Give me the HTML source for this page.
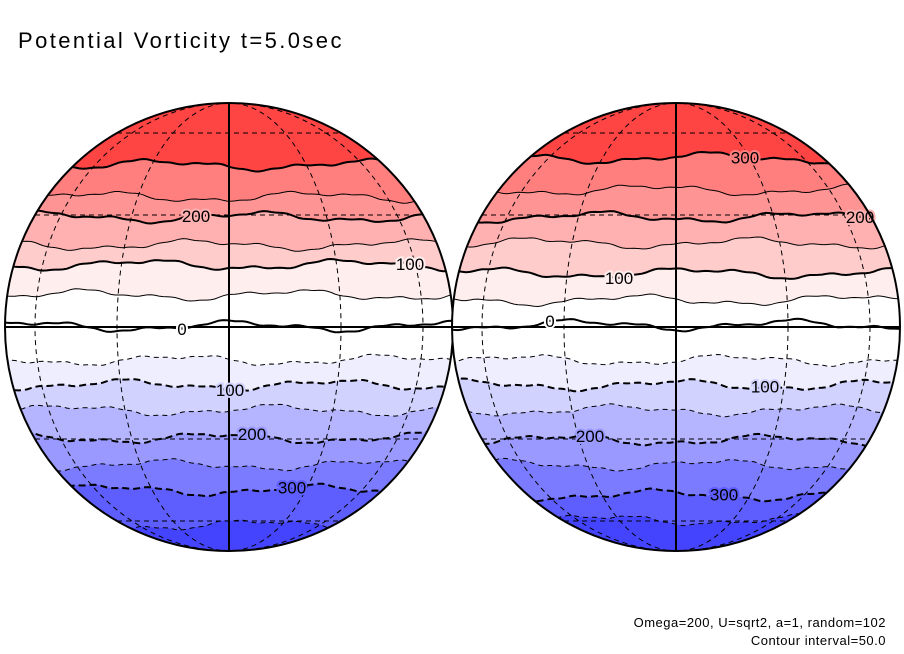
<!DOCTYPE html>
<html><head><meta charset="utf-8"><style>
html,body{margin:0;padding:0;background:#fff;}
svg{display:block;font-family:"Liberation Sans",sans-serif;}
</style></head><body>
<svg id="chart" width="904" height="654" viewBox="0 0 904 654" xmlns="http://www.w3.org/2000/svg">
<text x="18" y="48" font-size="22" letter-spacing="2.4" fill="#000">Potential Vorticity t=5.0sec</text>
<text x="886" y="627" font-size="13" text-anchor="end" letter-spacing="0.5" fill="#000">Omega=200, U=sqrt2, a=1, random=102</text>
<text x="886" y="645" font-size="13" text-anchor="end" letter-spacing="0.5" fill="#000">Contour interval=50.0</text>
</svg>
<script>
// contour levels and colours above each level
const levels = [300,250,200,150,100,50,0,-50,-100,-150,-200,-250,-300,-350];
// latitude (deg) of each contour level, per globe
const leftLat  = [46.3,35.5,29.4,21.5,16.1,8.2,0.2,-8.5,-15.0,-21.8,-29.7,-38.0,-46.7,-62.1];
const rightLat = [49.0,37.7,29.4,22.0,13.9,6.9,0.5,-8.5,-15.0,-21.8,-30.3,-38.0,-48.6,-59.5];
const bandColors = ["#ff4444","#ff7f7f","#ff9494","#ffb0b0","#ffcccc","#ffeeee","#ffffff","#ffffff","#eeeeff","#d2d2ff","#b4b4ff","#9999ff","#7b7bff","#5e5eff","#4444ff"];
const leftLabels  = [{t:"200",lv:200,x:196},{t:"100",lv:100,x:410},{t:"0",lv:0,x:182},{t:"100",lv:-100,x:230},{t:"200",lv:-200,x:252},{t:"300",lv:-300,x:292}];
const rightLabels = [{t:"300",lv:300,x:745},{t:"200",lv:200,x:860},{t:"100",lv:100,x:619},{t:"0",lv:0,x:550},{t:"100",lv:-100,x:765},{t:"200",lv:-200,x:590},{t:"300",lv:-300,x:724}];

const NS="http://www.w3.org/2000/svg";
const svg=document.getElementById('chart');
const R=224, CY=327;
function yOfLat(lat){return CY-R*Math.sin(lat*Math.PI/180);}
function mk(tag,attrs,parent){const e=document.createElementNS(NS,tag);for(const k in attrs)e.setAttribute(k,attrs[k]);(parent||svg).appendChild(e);return e;}
function wig(x,i,seed){return 4*Math.sin(x*0.03+i*1.7+seed)+2*Math.sin(x*0.08+i*0.9+seed*2)+0.6*Math.sin(x*0.25+i);}
function curvePts(cx,y0,i,seed){const pts=[];for(let x=cx-R-2;x<=cx+R+2;x+=4)pts.push([x,y0+wig(x,i,seed)]);return pts;}

function globe(cx,lats,labels,name,seed){
  const g=mk('g',{});
  
  
  const cp=mk('clipPath',{id:'clip-'+name},g);
  mk('circle',{cx:cx,cy:CY,r:R},cp);
  const inner=mk('g',{'clip-path':'url(#clip-'+name+')'},g);
  const bg=mk('rect',{x:cx-R,y:CY-R,width:2*R,height:2*R,fill:bandColors[bandColors.length-1]},inner);
  
  
  for(let i=levels.length-1;i>=0;i--){
    const pts=curvePts(cx,yOfLat(lats[i]),i,seed);
    let d='M'+(cx-R-2)+','+(CY-R-2)+' L'+pts.map(p=>p[0]+','+p[1].toFixed(1)).join(' L')+' L'+(cx+R+2)+','+(CY-R-2)+'Z';
    const p=mk('path',{d:d,fill:bandColors[i]},inner);
    
    
  }
  for(let i=0;i<levels.length;i++){
    const lv=levels[i];
    const pts=curvePts(cx,yOfLat(lats[i]),i,seed);
    const thick=(lv%100===0);
    const attrs={d:'M'+pts.map(p=>p[0]+','+p[1].toFixed(1)).join(' L'),fill:'none',stroke:'#000','stroke-width':thick?2:1};
    if(lv<0)attrs['stroke-dasharray']=thick?'7,4':'5,4';
    const c=mk('path',attrs,inner);
    
    
  }
  [30,60].forEach(lon=>{
    const rx=R*Math.sin(lon*Math.PI/180);
    const m=mk('ellipse',{cx:cx,cy:CY,rx:rx,ry:R,fill:'none',stroke:'#000','stroke-width':1,'stroke-dasharray':'5,4'},inner);
    
    
  });
  [30,60,-30,-60].forEach(lat=>{
    const y=yOfLat(lat), hw=R*Math.cos(lat*Math.PI/180);
    const l=mk('line',{x1:cx-hw,x2:cx+hw,y1:y,y2:y,stroke:'#000','stroke-width':1,'stroke-dasharray':'5,4'},inner);
    
    
  });
  const eq=mk('line',{x1:cx-R,x2:cx+R,y1:CY,y2:CY,stroke:'#000','stroke-width':2},g);
  
  
  const cm=mk('line',{x1:cx,x2:cx,y1:CY-R,y2:CY+R,stroke:'#000','stroke-width':2},g);
  
  
  labels.forEach(lb=>{
    const i=levels.indexOf(lb.lv);
    const y=yOfLat(lats[i])+wig(lb.x,i,seed);
    const t=mk('text',{x:lb.x,y:y+6,'font-size':17,'text-anchor':'middle',fill:'#000',stroke:bandColors[i+1],'stroke-width':4,'paint-order':'stroke'},g);
    t.textContent=lb.t;
    
    
  });
  const o=mk('circle',{cx:cx,cy:CY,r:R,fill:'none',stroke:'#000','stroke-width':2},g);
  
  
}
globe(229,leftLat,leftLabels,'left-globe',0);
globe(676,rightLat,rightLabels,'right-globe',2.3);
</script>
</body></html>
